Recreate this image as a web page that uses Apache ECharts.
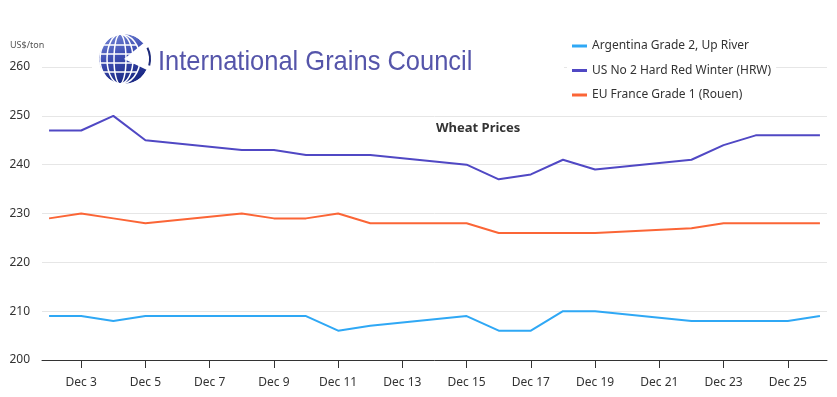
<!DOCTYPE html>
<html lang="en">
<head>
    <meta charset="UTF-8">
    <title>Wheat Prices</title>
    <script type="text/javascript" src="https://cdn.jsdelivr.net/npm/echarts@6/dist/echarts.min.js"></script>
    <style>
        body { margin: 0; background: #fff; }
    </style>
</head>
<body>
<div id="main" style="width:837px;height:397px;"></div>
<script>
    // December days with a quote (weekends skipped)
    const days = [2, 3, 4, 5, 8, 9, 10, 11, 12, 15, 16, 17, 18, 19, 22, 23, 24, 25, 26];
    const argentina = [209, 209, 208, 209, 209, 209, 209, 206, 207, 209, 206, 206, 210, 210, 208, 208, 208, 208, 209];
    const hrw = [247, 247, 250, 245, 243, 243, 242, 242, 242, 240, 237, 238, 241, 239, 241, 244, 246, 246, 246];
    const france = [229, 230, 229, 228, 230, 229, 229, 230, 228, 228, 226, 226, 226, 226, 227, 228, 228, 228, 228];
    const tickDays = [3, 5, 7, 9, 11, 13, 15, 17, 19, 21, 23, 25];

    const seriesNames = ['Argentina Grade 2, Up River', 'US No 2 Hard Red Winter (HRW)', 'EU France Grade 1 (Rouen)'];
    const seriesColors = ['#2fa8f5', '#5048c4', '#fb6536'];
    const seriesValues = [argentina, hrw, france];

    const font = 'Noto Sans';
    let myChart = echarts.init(document.getElementById('main'));

    // globe logo: white meridian ellipses and latitude chords
    const cx = 124, cy = 59, R = 25;
    let logo = [];
    logo.push({
        type: 'rect', z: 5,
        shape: {x: 92, y: 33, width: 472, height: 58},
        style: {fill: '#fff'}
    });
    logo.push({
        type: 'sector', z: 6,
        shape: {cx: cx, cy: cy, r: R, r0: 0, startAngle: 0.45, endAngle: 5.6, clockwise: true},
        style: {
            fill: new echarts.graphic.LinearGradient(0, 0, 0.4, 1, [
                {offset: 0, color: '#7d8fdb'},
                {offset: 0.5, color: '#3f4fb3'},
                {offset: 1, color: '#1c2a86'}
            ])
        }
    });
    [6, 13, 20].forEach(rx => {
        logo.push({
            type: 'ellipse', z: 7,
            shape: {cx: cx - 4, cy: cy, rx: rx, ry: R},
            style: {fill: 'none', stroke: '#fff', lineWidth: 1.5}
        });
    });
    [-14, -5, 4, 13].forEach(dy => {
        let half = Math.sqrt(R * R - dy * dy);
        logo.push({
            type: 'line', z: 7,
            shape: {x1: cx - half, y1: cy + dy, x2: cx + half * 0.6, y2: cy + dy},
            style: {stroke: '#fff', lineWidth: 1.5}
        });
    });
    logo.push({
        type: 'arc', z: 7,
        shape: {cx: cx, cy: cy, r: R + 1, startAngle: 0.45, endAngle: 5.6, clockwise: true},
        style: {stroke: '#fff', lineWidth: 2, fill: 'none'}
    });
    logo.push({
        type: 'arc', z: 7,
        shape: {cx: cx, cy: cy, r: R + 1, startAngle: -0.45, endAngle: 0.25, clockwise: true},
        style: {stroke: '#1d2a7a', lineWidth: 2, fill: 'none'}
    });
    logo.push({
        type: 'text', z: 7,
        x: 158, y: 62, scaleX: 0.91,
        style: {
            text: 'International Grains Council',
            font: '28px "Liberation Sans"',
            fill: '#5555aa',
            textVerticalAlign: 'middle'
        }
    });
    logo.push({
        type: 'text', z: 7,
        x: 10, y: 41,
        style: {
            text: 'US$/ton',
            font: '9px "Noto Sans"',
            fill: '#555'
        }
    });

    let option = {
        backgroundColor: '#fff',
        animation: false,
        textStyle: {fontFamily: font},
        title: {
            text: 'Wheat Prices',
            left: 431,
            top: 117,
            padding: [5, 5],
            backgroundColor: '#fff',
            textStyle: {fontSize: 13, fontWeight: 'bold', color: '#333', fontFamily: font}
        },
        legend: {
            orient: 'vertical',
            left: 567,
            top: 35,
            itemGap: 12.5,
            icon: 'rect',
            itemWidth: 15,
            itemHeight: 3,
            backgroundColor: '#fff',
            textStyle: {fontSize: 12, color: '#333', fontFamily: font},
            data: seriesNames
        },
        grid: {left: 42, right: 10, top: 67, bottom: 37},
        xAxis: {
            type: 'value',
            min: 1.78,
            max: 26.22,
            splitLine: {show: false},
            axisLine: {lineStyle: {color: '#333'}},
            axisTick: {show: true, length: 8, customValues: tickDays, lineStyle: {color: '#333'}},
            axisLabel: {
                customValues: tickDays,
                margin: 17,
                fontSize: 12,
                color: '#333',
                formatter: v => 'Dec ' + v
            }
        },
        yAxis: {
            type: 'value',
            min: 200,
            max: 260,
            interval: 10,
            axisLine: {show: false},
            axisTick: {show: false},
            splitLine: {lineStyle: {color: '#e6e6e6'}},
            axisLabel: {fontSize: 12, color: '#333', margin: 12}
        },
        graphic: logo,
        series: seriesNames.map((name, i) => ({
            name: name,
            type: 'line',
            symbol: 'none',
            color: seriesColors[i],
            lineStyle: {width: 2},
            data: days.map((d, k) => [d, seriesValues[i][k]])
        }))
    };
    myChart.setOption(option);
</script>
</body>
</html>
